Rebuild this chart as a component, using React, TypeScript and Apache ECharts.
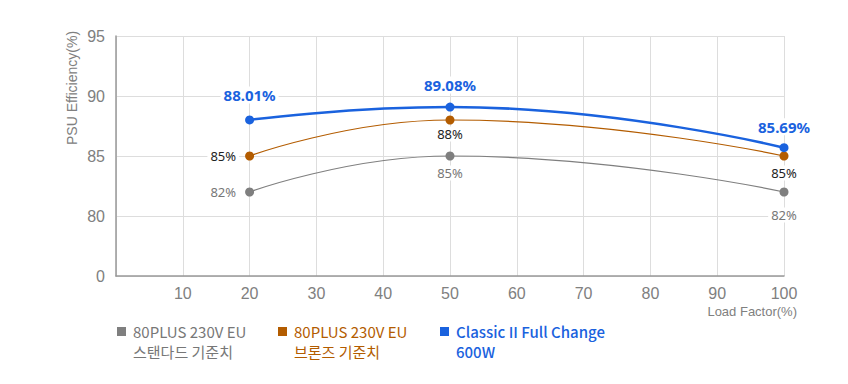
import React, { useEffect, useRef } from "react";
import * as echarts from "echarts";

const loadFactors = [20, 50, 100];
const standardValues = [82, 85, 82];
const bronzeValues = [85, 88, 85];
const classicValues = [88.01, 89.08, 85.69];
const seriesNames = ["80PLUS 230V EU\n스탠다드 기준치", "80PLUS 230V EU\n브론즈 기준치", "Classic II Full Change\n600W"];
const seriesColors = ["#7f7f7f", "#b35c00", "#1a62de"];
const yTicks = [75, 80, 85, 90, 95];

const AXFONT = "'Liberation Sans', Arial, sans-serif";
const LBFONT = "'Noto Sans', Roboto, sans-serif";
const KRFONT = "'Noto Sans CJK KR', 'Noto Sans', sans-serif";

export default function App() {
  const ref = useRef<HTMLDivElement>(null);
  useEffect(() => {
    const chart = echarts.init(ref.current!, null, { renderer: "svg" });
    const labelBase = { show: true, fontFamily: LBFONT, backgroundColor: "#fff", padding: [1, 3] };
    chart.setOption({
      animation: false,
      textStyle: { fontFamily: AXFONT },
      grid: { left: 116, right: 64, top: 36, bottom: 108 },
      xAxis: {
        type: "value",
        min: 0,
        max: 100,
        interval: 10,
        axisLine: { show: true, lineStyle: { color: "#999", width: 1.5 } },
        axisTick: { show: false },
        splitLine: { show: true, lineStyle: { color: "#ddd" } },
        axisLabel: { color: "#808080", fontSize: 16, margin: 9, fontFamily: AXFONT, formatter: (v: number) => (v === 0 ? "" : String(v)) },
        name: "Load Factor(%)",
        nameLocation: "end",
        nameGap: 0,
        nameTextStyle: { color: "#808080", fontSize: 13, fontFamily: AXFONT, align: "right", verticalAlign: "top", padding: [29, -13, 0, 0] },
      },
      yAxis: {
        type: "value",
        min: yTicks[0],
        max: yTicks[yTicks.length - 1],
        interval: 5,
        axisLine: { show: true, lineStyle: { color: "#999", width: 1.5 } },
        axisTick: { show: false },
        splitLine: { show: true, lineStyle: { color: "#ddd" } },
        axisLabel: { color: "#808080", fontSize: 16, margin: 11, fontFamily: AXFONT, formatter: (v: number) => (v === 75 ? "0" : String(v)) },
      },
      series: [
        {
          name: seriesNames[0],
          type: "line",
          smooth: 0.5,
          data: standardValues.map((v, i) => ({
            value: [loadFactors[i], v],
            label: i === 0 ? { position: "left", distance: 6 } : { position: "bottom", distance: i === 2 ? 11 : 5 },
          })),
          symbol: "circle",
          symbolSize: 9,
          color: seriesColors[0],
          lineStyle: { width: 1.2 },
          label: { ...labelBase, color: "#777", fontSize: 13, formatter: (p: any) => p.value[1] + "%" },
          emphasis: { disabled: true },
          z: 2,
        },
        {
          name: seriesNames[1],
          type: "line",
          smooth: 0.5,
          data: bronzeValues.map((v, i) => ({
            value: [loadFactors[i], v],
            label: i === 0 ? { position: "left", distance: 6 } : { position: "bottom", distance: i === 2 ? 5 : 2 },
          })),
          symbol: "circle",
          symbolSize: 9,
          color: seriesColors[1],
          lineStyle: { width: 1.2 },
          label: { ...labelBase, color: "#222", fontSize: 13, formatter: (p: any) => p.value[1] + "%" },
          emphasis: { disabled: true },
          z: 3,
        },
        {
          name: seriesNames[2],
          type: "line",
          smooth: 0.5,
          data: classicValues.map((v, i) => ({
            value: [loadFactors[i], v],
            label: { position: "top", distance: i === 0 ? 12 : i === 1 ? 9 : 8 },
          })),
          symbol: "circle",
          symbolSize: 9,
          color: seriesColors[2],
          lineStyle: { width: 2.5 },
          label: {
            ...labelBase,
            color: seriesColors[2],
            fontSize: 15,
            fontWeight: "bold",
            formatter: (p: any) => p.value[1].toFixed(2) + "%",
          },
          emphasis: { disabled: true },
          z: 4,
        },
      ],
      graphic: [
        {
          type: "text",
          x: 72,
          y: 88,
          rotation: Math.PI / 2,
          style: {
            text: "PSU Efficiency(%)",
            fill: "#808080",
            fontSize: 14,
            fontFamily: AXFONT,
            align: "center",
            verticalAlign: "middle",
          },
        },
        ...seriesNames.flatMap((n, i) => {
          const xs = [117, 278, 440];
          return [
            { type: "rect", shape: { x: xs[i], y: 327, width: 9, height: 9 }, style: { fill: seriesColors[i] } },
            {
              type: "text",
              x: xs[i] + 16,
              y: 321,
              style: {
                text: n,
                fill: i === 0 ? "#777" : seriesColors[i],
                fontSize: 15,
                fontWeight: i === 2 ? 500 : "normal",
                lineHeight: 20,
                fontFamily: KRFONT,
              },
            },
          ];
        }),
      ],
    });
    return () => chart.dispose();
  }, []);
  return <div ref={ref} style={{ position: "absolute", left: 0, top: 0, width: 848, height: 384 }} />;
}
